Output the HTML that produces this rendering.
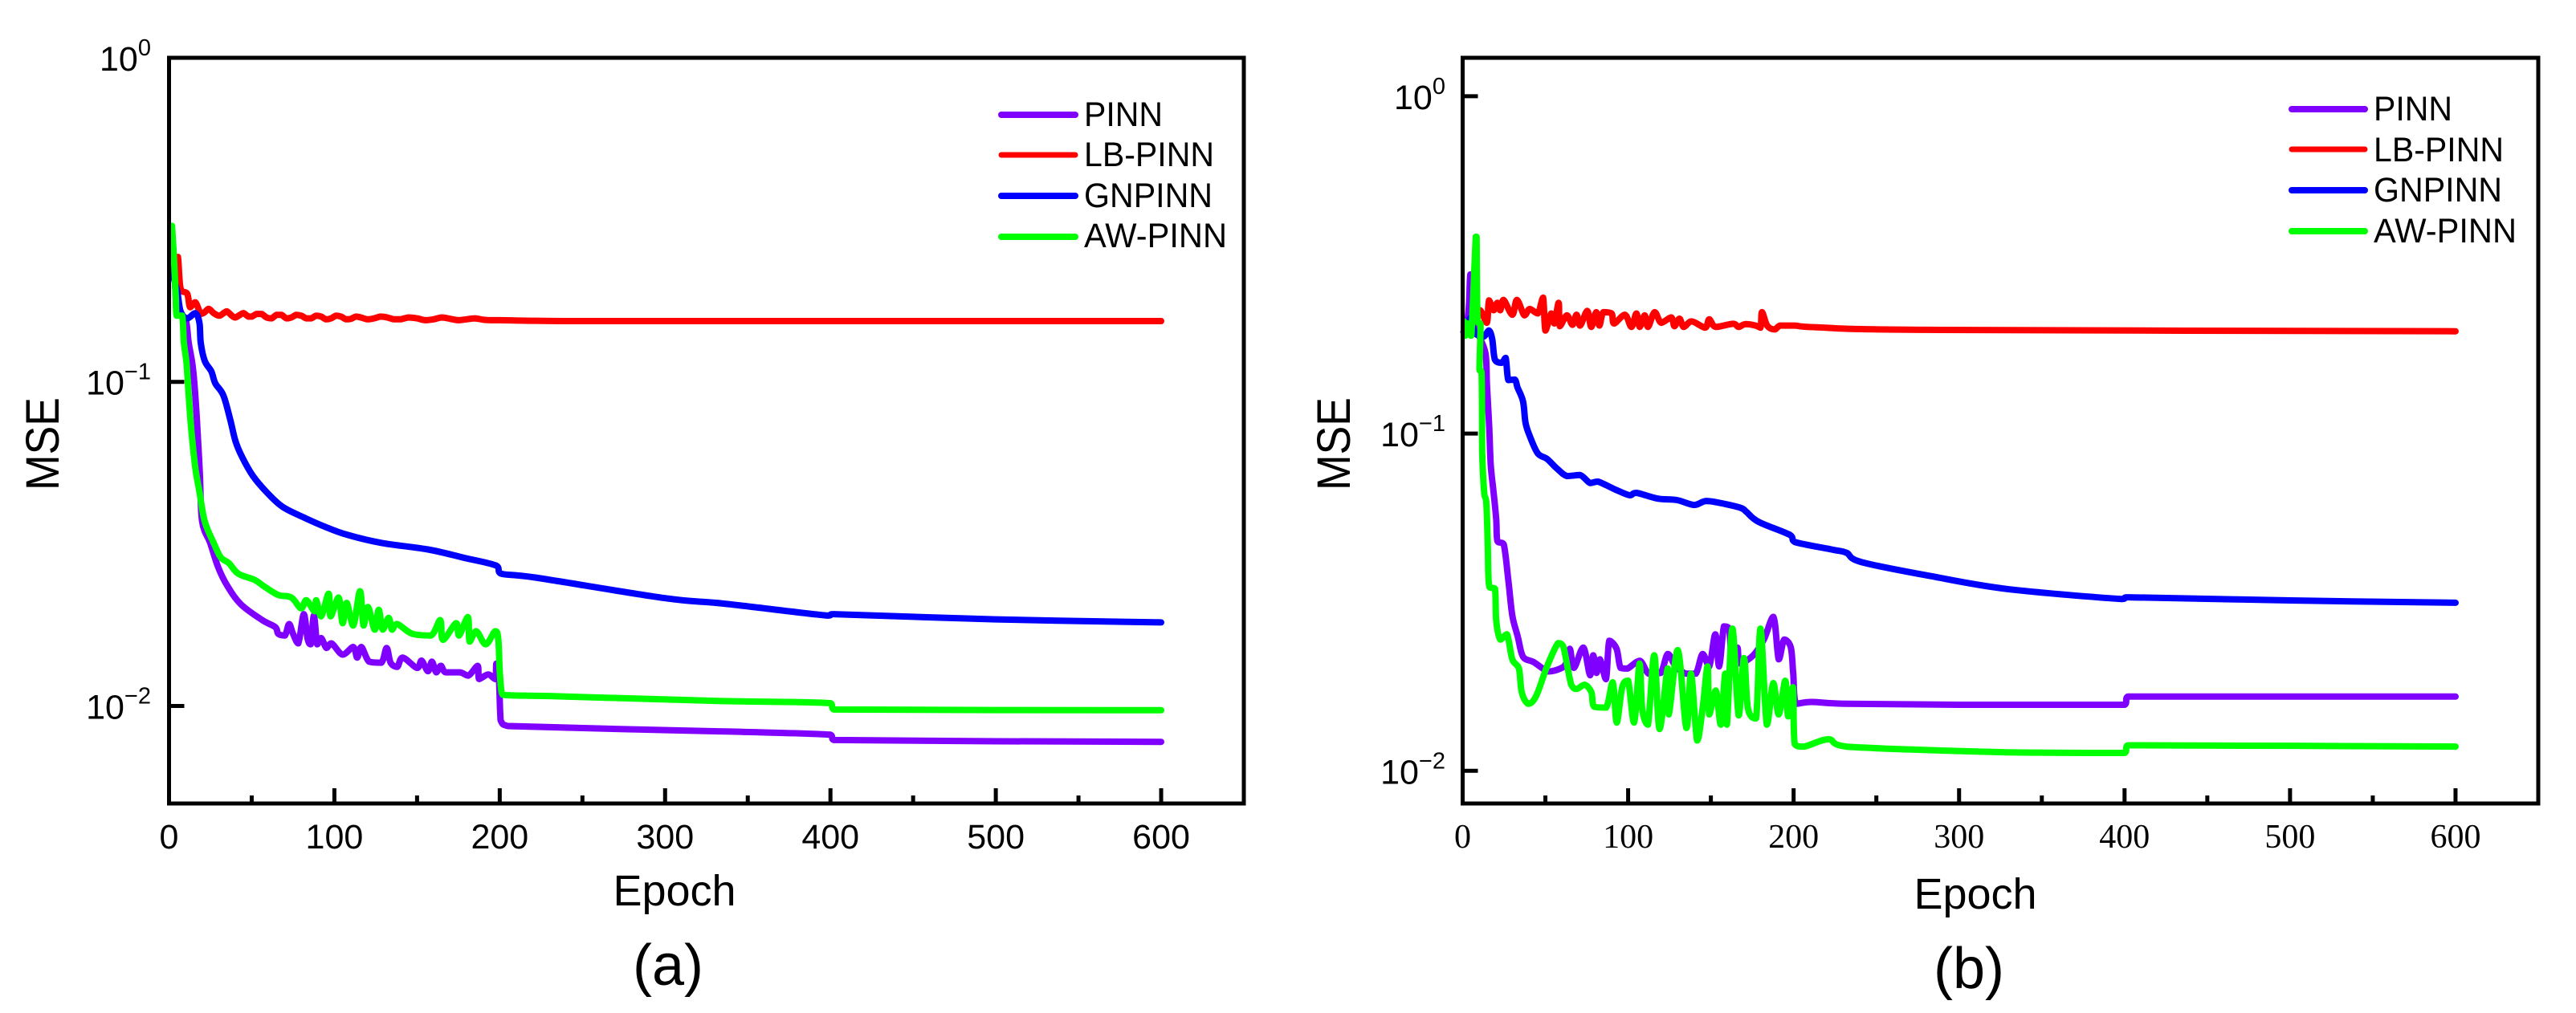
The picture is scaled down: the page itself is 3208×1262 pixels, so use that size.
<!DOCTYPE html>
<html lang="en">
<head>
<meta charset="utf-8">
<title>MSE vs Epoch comparison</title>
<style>
html,body{margin:0;padding:0;background:#fff;width:3208px;height:1262px;overflow:hidden}
svg{display:block;position:absolute;left:0;top:0}
text{font-family:"Liberation Sans",sans-serif;fill:#000}
</style>
</head>
<body>
<svg id="figure" xmlns="http://www.w3.org/2000/svg" width="3208" height="1262" viewBox="0 0 3208 1262">
  <rect x="0" y="0" width="3208" height="1262" fill="#fff"/>

  <g id="panel-a">
    <text transform="translate(73,553) rotate(-90)" text-anchor="middle" font-size="58" textLength="116" lengthAdjust="spacingAndGlyphs">MSE</text>
    <text x="840" y="1128" text-anchor="middle" font-size="54">Epoch</text>
    <text x="832" y="1227" text-anchor="middle" font-size="72">(a)</text>
    <g>
      <g><line x1="1247" x2="1339" y1="143" y2="143" stroke="#8000ff" stroke-width="8" stroke-linecap="round"/><text x="1350" y="157" font-size="42.6" textLength="98" lengthAdjust="spacingAndGlyphs">PINN</text></g>
      <g><line x1="1247" x2="1339" y1="193" y2="193" stroke="#ff0000" stroke-width="7" stroke-linecap="round"/><text x="1350" y="207" font-size="42.6" textLength="162" lengthAdjust="spacingAndGlyphs">LB-PINN</text></g>
      <g><line x1="1247" x2="1339" y1="244" y2="244" stroke="#0000ff" stroke-width="8" stroke-linecap="round"/><text x="1350" y="258" font-size="42.6" textLength="160" lengthAdjust="spacingAndGlyphs">GNPINN</text></g>
      <g><line x1="1247" x2="1339" y1="295" y2="295" stroke="#00ff00" stroke-width="8" stroke-linecap="round"/><text x="1350" y="308" font-size="42.6" textLength="178" lengthAdjust="spacingAndGlyphs">AW-PINN</text></g>
    </g>
  </g>

  <g id="panel-b">
    <text transform="translate(1681,553) rotate(-90)" text-anchor="middle" font-size="58" textLength="116" lengthAdjust="spacingAndGlyphs">MSE</text>
    <text x="2460" y="1132" text-anchor="middle" font-size="54">Epoch</text>
    <text x="2452" y="1231" text-anchor="middle" font-size="72">(b)</text>
    <g>
      <g><line x1="2854" x2="2945" y1="136" y2="136" stroke="#8000ff" stroke-width="8" stroke-linecap="round"/><text x="2956" y="150" font-size="42.6" textLength="98" lengthAdjust="spacingAndGlyphs">PINN</text></g>
      <g><line x1="2854" x2="2945" y1="186" y2="186" stroke="#ff0000" stroke-width="7" stroke-linecap="round"/><text x="2956" y="201" font-size="42.6" textLength="162" lengthAdjust="spacingAndGlyphs">LB-PINN</text></g>
      <g><line x1="2854" x2="2945" y1="237" y2="237" stroke="#0000ff" stroke-width="8" stroke-linecap="round"/><text x="2956" y="251" font-size="42.6" textLength="160" lengthAdjust="spacingAndGlyphs">GNPINN</text></g>
      <g><line x1="2854" x2="2945" y1="288" y2="288" stroke="#00ff00" stroke-width="8" stroke-linecap="round"/><text x="2956" y="302" font-size="42.6" textLength="178" lengthAdjust="spacingAndGlyphs">AW-PINN</text></g>
    </g>
  </g>
</svg>

<script>
// Shared axis ticks
const xMajorTicks = [0, 100, 200, 300, 400, 500, 600];
const xMinorTicks = [50, 150, 250, 350, 450, 550];
const aYTickExponents = [0, -1, -2];
const bYTickExponents = [0, -1, -2];

// Panel (a) data
const aPinnEpoch = [1.8,3,4.1,4.6,7,10.3,11.9,14.3,15.9,17.6,
  18.7,20,24.9,29.7,35.2,43.4,56.4,64.3,66,70.1,
  72.6,75,78.2,81.5,83.8,85.7,87.6,89.6,92,95.2,
  98.3,105,111.4,113.8,116.3,121,128.4,131.6,134,138,
  141.3,150,152.7,156.6,159,161.6,164.4,167.3,176,181,
  186.7,187.5,193,197.2,198,199.5,200.3,201,205,337,
  400,402,600];
const aPinnMse = [.295,.235,.18,.165,.16,.154,.132,.112,.0908,.0656,
  .0513,.0371,.0318,.0268,.0235,.0206,.0184,.0175,.0167,.0165,
  .0179,.0167,.0156,.0192,.0161,.0155,.019,.0155,.0162,.0151,
  .0156,.0144,.0152,.0141,.0152,.0137,.0136,.0151,.0136,.0132,
  .0141,.0131,.0138,.0128,.0137,.0127,.0133,.0127,.0127,.0124,
  .0133,.0121,.0125,.0121,.0135,.0121,.00944,.00893,.00867,.00834,
  .00815,.00785,.00775];

const aLbEpoch = [4.4,5.4,7,11,12.7,
  15.9,19.2,21.5,24,27,
  30.4,33,35,38,40,
  43,45,48,50,53,
  56,59,62,65,68,
  71,74,77,80,83,
  86,89,92,95,98,
  101,104,107,110,113,
  116,120,124,128,132,
  136,140,145,150,155,
  160,165,170,175,180,
  185,190,195,200,215,
  240,300,400,600];
const aLbMse = [.21,.243,.194,.187,.17,
  .176,.162,.164,.168,.163,
  .16,.163,.165,.16,.158,
  .161,.163,.159,.159,.162,
  .162,.158,.157,.161,.161,
  .157,.158,.161,.16,.157,
  .157,.16,.159,.156,.157,
  .16,.159,.156,.1565,.159,
  .158,.156,.157,.159,.158,
  .156,.156,.158,.157,.155,
  .156,.158,.1565,.155,.156,
  .157,.1555,.155,.155,.1545,
  .154,.154,.154,.154];

const aGnEpoch = [1,1.5,3,5,7,11,15.9,18.4,19.2,21.6,
  25.6,28,32.9,37,40.2,44.3,50.7,58.8,68.5,81.4,
  94.4,108,129,156.6,177.8,198,200.7,221.5,300,335,
  398,402,500,600];
const aGnMse = [.21,.26,.21,.19,.165,.157,.163,.152,.132,.116,
  .1077,.0989,.0908,.0765,.0656,.0585,.0513,.0458,.0412,.0382,
  .0357,.0337,.0318,.0304,.0287,.0271,.0256,.0249,.0215,.0207,
  .019,.0192,.0185,.0181];

const aAwEpoch = [1.8,3,4.1,4.6,7.9,9,10.6,11.9,13.5,15.9,
  18.4,21.6,27.3,31.3,36.2,41.8,51.6,58,66,74,
  79.9,83,88,89,92,96.5,97.7,102.5,105,107.4,
  111.4,115.5,117.6,120.3,124.4,126.8,129.2,132.8,134.8,138,
  147,158.4,164,165.7,173.6,175.4,180.7,181.8,185.8,191.5,
  197.2,199.1,200,201.2,203.6,237.6,335,400,402,600];
const aAwMse = [.303,.239,.183,.16,.16,.132,.114,.0908,.0708,.0543,
  .0458,.0371,.0316,.0287,.0276,.0256,.0245,.0233,.022,.0216,
  .02,.0212,.0196,.0212,.0189,.0222,.0189,.0216,.018,.0208,
  .0177,.0226,.0177,.0202,.0172,.0198,.0172,.0187,.0172,.0179,
  .0167,.0165,.0184,.016,.018,.0165,.0188,.0158,.017,.0155,
  .017,.0161,.0128,.011,.0108,.0107,.01035,.0102,.00975,.0097];

// Panel (b) data
const bPinnEpoch = [1,2.5,3.8,4.6,5.5,6.5,9,13.8,14.7,16,
  17,18.7,20.3,21,24.8,27.6,30,33.3,36.5,43,
  51.8,59,62.4,64.8,67.2,72.9,77,78.9,80.9,83,
  86.6,88.6,93,95.4,99.6,107,112.4,119.6,124,128.7,
  135,140.9,145,149,152.7,155,157.9,161,163,166,
  167.6,175.6,182,187.8,191,194.3,198.3,199.8,201.5,211,
  232,300,400,402,600];
const bPinnMse = [.2,.21,.24,.296,.25,.23,.2,.173,.139,.1056,
  .0804,.067,.0557,.048,.047,.0367,.0289,.025,.0218,.021,
  .0197,.0201,.0208,.023,.0202,.0232,.0192,.022,.0195,.0214,
  .0187,.0243,.023,.0202,.0201,.0212,.0194,.0195,.0222,.0204,
  .0194,.0194,.0222,.0204,.0254,.0204,.0268,.0264,.0204,.0232,
  .0208,.022,.0245,.0286,.0214,.0245,.0232,.0194,.0158,.016,
  .0158,.0157,.0157,.0166,.0166];

const bLbEpoch = [5,6.5,10.6,14.6,15.9,18.7,21,22.7,24.7,30,
  32.8,37.3,40.5,45.4,48.6,50,53.5,55.4,58,58.7,
  63,66.4,68.8,71,75.3,77.7,80.7,82.6,85,90,
  91.5,98,102,105,107,110,112,116,120,126,
  128,131,133.6,138.4,146.5,149,153,163.5,166.7,170.8,
  177,180,180.9,184,188.5,192,200.7,214,281,600];
const bLbMse = [.2,.227,.232,.213,.248,.232,.244,.232,.249,.225,
  .249,.224,.234,.227,.253,.202,.227,.212,.244,.208,
  .224,.21,.225,.209,.231,.207,.229,.209,.229,.227,
  .212,.225,.207,.227,.207,.224,.207,.229,.213,.221,
  .208,.219,.207,.215,.206,.218,.207,.2115,.207,.211,
  .209,.206,.229,.209,.2035,.209,.209,.2065,.203,.201];

const bGnEpoch = [0.5,3,4.5,7,10,13,15.9,17.9,19.5,23.5,
  26,27.6,31.6,33.2,36.5,38,40.5,45.4,51,56.7,
  63,71,77,81.8,92.3,101,105,118,129.5,140,
  147.3,158.7,168.4,171.6,178.9,198,200.7,224,232,240.8,
  282.6,329,398,402,500,600];
const bGnMse = [.2,.2,.22,.2,.195,.194,.202,.19,.1656,.162,
  .1675,.144,.1445,.1368,.1245,.1076,.0984,.0873,.0841,.079,
  .0748,.0753,.0713,.072,.0682,.0656,.0667,.0641,.0635,.0614,
  .0631,.0618,.0601,.0585,.0547,.05,.0477,.0452,.0443,.0416,
  .0378,.0346,.0323,.0327,.032,.0315];

const bAwEpoch = [.8,1.5,3,5,5.7,7.9,8.4,9,10.8,10.2,11.4,
  11.7,11.8,13,14.3,15.2,15.5,16.3,19.5,20.3,22.7,
  26.8,30,34,35.7,39.7,44.5,51,57.6,60.8,65.6,
  68.9,73.7,77.8,79.4,86.7,90.7,93.1,96.4,100,103.6,
  106.9,108.5,112,115.8,119,123.9,124.6,130,135.2,138,
  141.7,145,148,149,153,156,158.7,159.7,163,166.8,
  170,172.4,177.3,180,183.8,187.7,191,195,196.7,199.6,
  200.7,206.4,221,232,329,400,402,600];
const bAwMse = [.215,.195,.212,.195,.212,.383,.383,.215,.21,.155,.152,
  .116,.0881,.067,.0622,.0465,.0387,.035,.0347,.0279,.0245,
  .0254,.0214,.0201,.0171,.0158,.0167,.0204,.0239,.0234,.018,
  .0175,.018,.0171,.0155,.0154,.0183,.0139,.0177,.0185,.0139,
  .0208,.0153,.0137,.022,.0133,.0201,.0147,.0228,.0134,.0194,
  .0123,.0153,.0204,.0147,.0173,.0137,.0194,.0137,.0264,.0146,
  .0216,.0153,.0143,.0264,.0137,.0182,.0147,.0185,.0145,.0177,
  .012,.0118,.0124,.0118,.01135,.0113,.0119,.0118];

const SVGNS = 'http://www.w3.org/2000/svg';

function make(parent, tag, attrs, txt) {
  const el = document.createElementNS(SVGNS, tag);
  for (const k in attrs) el.setAttribute(k, attrs[k]);
  if (txt !== undefined) el.textContent = txt;
  parent.appendChild(el);
  return el;
}

function clamp(v, a, b) {
  return Math.min(Math.max(a, b), Math.max(Math.min(a, b), v));
}

// Rounded path through the points; control points stay inside each segment's box so drops do not overshoot
function smoothPath(pts) {
  let d = 'M' + pts[0][0].toFixed(1) + ' ' + pts[0][1].toFixed(1);
  for (let i = 0; i < pts.length - 1; i++) {
    const p0 = pts[Math.max(i - 1, 0)], p1 = pts[i], p2 = pts[i + 1], p3 = pts[Math.min(i + 2, pts.length - 1)];
    const c1x = clamp(p1[0] + (p2[0] - p0[0]) / 6, p1[0], p2[0]);
    const c1y = clamp(p1[1] + (p2[1] - p0[1]) / 6, p1[1], p2[1]);
    const c2x = clamp(p2[0] - (p3[0] - p1[0]) / 6, p1[0], p2[0]);
    const c2y = clamp(p2[1] - (p3[1] - p1[1]) / 6, p1[1], p2[1]);
    d += 'C' + c1x.toFixed(1) + ' ' + c1y.toFixed(1) + ' ' + c2x.toFixed(1) + ' ' + c2y.toFixed(1) + ' ' + p2[0].toFixed(1) + ' ' + p2[1].toFixed(1);
  }
  return d;
}

function drawPanel(cfg) {
  const root = document.getElementById(cfg.id);
  const L = cfg.left, R = cfg.right, T = 72, B = 1001;
  const x = e => L + (e - cfg.xDomain[0]) / (cfg.xDomain[1] - cfg.xDomain[0]) * (R - L);
  const lmin = Math.log10(cfg.yDomain[0]), lmax = Math.log10(cfg.yDomain[1]);
  const y = v => T + (lmax - Math.log10(v)) / (lmax - lmin) * (B - T);

  const plot = make(root, 'g', {});
  
  

  cfg.series.forEach(s => {
    const n = Math.min(s.epoch.length, s.mse.length);
    const pts = [];
    for (let i = 0; i < n; i++) pts.push([x(s.epoch[i]), y(s.mse[i])]);
    const line = make(plot, 'path', {
      d: smoothPath(pts), fill: 'none', stroke: s.color, 'stroke-width': s.width,
      'stroke-linejoin': 'round', 'stroke-linecap': 'round'
    });
    
    
  });

  const frame = make(root, 'rect', {
    x: L, y: T, width: R - L, height: B - T, fill: 'none', stroke: '#000', 'stroke-width': 5
  });
  
  

  const xAxis = make(root, 'g', {});
  
  
  cfg.xMajor.forEach(t => {
    const tick = make(xAxis, 'line', { x1: x(t), x2: x(t), y1: B, y2: B - 19, stroke: '#000', 'stroke-width': 5 });
    
    
    const label = make(xAxis, 'text', {
      x: x(t), y: cfg.xLabelY, 'text-anchor': 'middle', 'font-size': cfg.xLabelSize,
      style: 'font-family:' + cfg.xLabelFont
    }, String(t));
    
    
  });
  cfg.xMinor.forEach(t => {
    const tick = make(xAxis, 'line', { x1: x(t), x2: x(t), y1: B, y2: B - 10, stroke: '#000', 'stroke-width': 5 });
    
    
  });

  const yAxis = make(root, 'g', {});
  
  
  cfg.yExp.forEach(ex => {
    const py = y(Math.pow(10, ex));
    const tick = make(yAxis, 'line', { x1: L, x2: L + 19, y1: py, y2: py, stroke: '#000', 'stroke-width': 5 });
    
    
    const label = make(yAxis, 'text', { x: cfg.yLabelX, y: py + 16, 'text-anchor': 'end', 'font-size': 43 }, '10');
    
    
    make(label, 'tspan', { dy: -19, 'font-size': 29 }, String(ex).replace('-', '\u2212'));
  });
}

drawPanel({
  id: 'panel-a', left: 210.5, right: 1549,
  xDomain: [0, 650], yDomain: [0.005, 1],
  xMajor: xMajorTicks, xMinor: xMinorTicks, yExp: aYTickExponents,
  xLabelY: 1057, xLabelSize: 43, xLabelFont: '"Liberation Sans",sans-serif', yLabelX: 188,
  series: [
    { name: 'pinn', color: '#8000ff', width: 8, epoch: aPinnEpoch, mse: aPinnMse },
    { name: 'lb-pinn', color: '#ff0000', width: 8, epoch: aLbEpoch, mse: aLbMse },
    { name: 'gnpinn', color: '#0000ff', width: 8, epoch: aGnEpoch, mse: aGnMse },
    { name: 'aw-pinn', color: '#00ff00', width: 8, epoch: aAwEpoch, mse: aAwMse }
  ]
});

drawPanel({
  id: 'panel-b', left: 1821.5, right: 3161,
  xDomain: [0, 650], yDomain: [0.008, 1.3],
  xMajor: xMajorTicks, xMinor: xMinorTicks, yExp: bYTickExponents,
  xLabelY: 1056, xLabelSize: 42, xLabelFont: '"Liberation Serif",serif', yLabelX: 1800,
  series: [
    { name: 'pinn', color: '#8000ff', width: 8, epoch: bPinnEpoch, mse: bPinnMse },
    { name: 'lb-pinn', color: '#ff0000', width: 8, epoch: bLbEpoch, mse: bLbMse },
    { name: 'gnpinn', color: '#0000ff', width: 8, epoch: bGnEpoch, mse: bGnMse },
    { name: 'aw-pinn', color: '#00ff00', width: 8, epoch: bAwEpoch, mse: bAwMse }
  ]
});
</script>
</body>
</html>
